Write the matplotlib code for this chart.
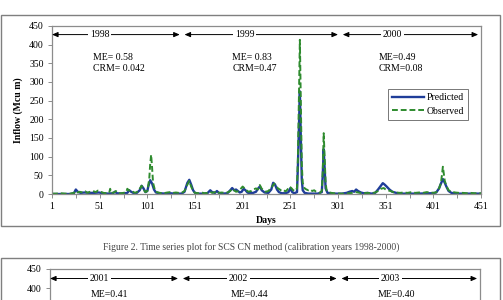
import matplotlib.pyplot as plt
from matplotlib.patches import Rectangle
import numpy as np

plt.rcParams['font.family'] = ['Liberation Serif', 'DejaVu Serif']

# ---------------------------------------------------------
# Data (day, inflow in Mcu m)
# ---------------------------------------------------------
obs_days = [1, 5, 10, 15, 20, 24, 26, 28, 30, 33, 36, 38, 41, 44, 47, 49, 52, 55, 58, 61,
            62, 63, 66, 68, 70, 73, 76, 79, 80, 82, 84, 86, 88, 90, 92, 95, 97, 99, 101, 103,
            104, 105, 106, 107, 109, 111, 114, 118, 122, 125, 128, 131, 134, 137, 140, 143, 145, 147, 149, 151,
            155, 158, 161, 164, 167, 169, 172, 174, 176, 179, 182, 185, 188, 190, 192, 194, 197, 199, 201, 203,
            205, 207, 210, 212, 215, 217, 219, 221, 223, 225, 228, 230, 232, 234, 236, 238, 240, 242, 244, 246,
            248, 250, 252, 254, 256, 258, 259, 260, 261, 262, 263, 264, 266, 268, 270, 272, 274, 276, 278, 280,
            282, 284, 285, 286, 287, 288, 289, 291, 294, 297, 300, 304, 308, 312, 316, 320, 324, 328, 332, 336,
            340, 343, 346, 349, 351, 353, 356, 359, 362, 366, 370, 374, 378, 382, 386, 390, 394, 398, 402, 405,
            407, 409, 410, 411, 412, 413, 415, 417, 420, 424, 428, 432, 436, 440, 444, 448, 451]
obs_vals = [1, 1, 2, 1, 1, 3, 8, 4, 6, 4, 7, 3, 6, 8, 5, 9, 6, 3, 2, 3,
            14, 3, 4, 8, 3, 2, 3, 5, 14, 9, 10, 6, 3, 5, 10, 22, 12, 5, 8, 40,
            80, 105, 70, 30, 10, 5, 3, 2, 4, 5, 3, 4, 3, 3, 8, 25, 35, 20, 8, 3,
            2, 4, 2, 3, 6, 3, 5, 8, 3, 4, 3, 4, 8, 14, 10, 6, 8, 14, 20, 15,
            10, 6, 8, 12, 15, 12, 24, 14, 10, 6, 8, 14, 20, 28, 22, 15, 12, 8, 10, 7,
            12, 20, 16, 10, 8, 15, 100, 260, 413, 250, 80, 30, 15, 12, 10, 12, 8, 10, 6, 4,
            3, 8, 60, 163, 100, 30, 10, 5, 3, 2, 2, 1, 1, 2, 3, 5, 3, 2, 3, 2,
            4, 8, 14, 16, 12, 10, 8, 5, 4, 3, 4, 3, 5, 3, 4, 3, 5, 4, 3, 6,
            15, 30, 50, 73, 55, 35, 20, 10, 6, 4, 3, 3, 2, 3, 2, 2, 2]

pred_days = [1, 20, 24, 26, 28, 31, 35, 40, 45, 50, 55, 60, 65, 67, 69, 75, 80, 82, 84, 87,
             90, 93, 95, 97, 99, 101, 102, 104, 106, 108, 110, 114, 120, 125, 130, 137, 140, 143, 145, 147,
             149, 151, 155, 160, 164, 167, 169, 172, 174, 176, 180, 185, 188, 190, 192, 194, 196, 198, 200, 202,
             204, 206, 208, 212, 215, 217, 219, 221, 224, 228, 231, 233, 235, 237, 239, 242, 246, 249, 251, 253,
             255, 258, 259, 260, 261, 262, 263, 264, 266, 270, 275, 280, 284, 285, 286, 287, 288, 290, 295, 305,
             310, 313, 316, 318, 320, 322, 325, 328, 332, 336, 340, 343, 346, 348, 350, 352, 355, 358, 362, 366,
             375, 385, 395, 400, 404, 407, 409, 411, 413, 415, 417, 420, 425, 435, 451]
pred_vals = [0, 0, 2, 12, 6, 3, 4, 3, 3, 4, 2, 1, 2, 6, 2, 1, 3, 10, 6, 2,
             3, 10, 22, 15, 5, 8, 20, 37, 28, 12, 4, 2, 1, 2, 1, 1, 6, 30, 38, 25,
             10, 3, 1, 1, 2, 10, 5, 3, 8, 3, 1, 2, 10, 16, 10, 12, 8, 4, 6, 14,
             10, 4, 2, 3, 6, 14, 20, 10, 4, 3, 12, 30, 25, 12, 5, 2, 2, 5, 15, 5,
             2, 5, 80, 180, 275, 150, 40, 10, 3, 1, 1, 1, 5, 50, 120, 70, 15, 3, 1, 1,
             3, 6, 8, 6, 12, 8, 4, 2, 3, 1, 3, 12, 22, 29, 25, 20, 12, 6, 3, 1,
             1, 1, 2, 2, 4, 15, 28, 40, 30, 18, 8, 3, 1, 1, 1]

year_labels = ['1998', '1999', '2000']
year_spans = [(1, 135), (140, 301), (306, 448)]
year_text_x = [51, 203, 358]
stats_text = ['ME= 0.58\nCRM= 0.042', 'ME= 0.83\nCRM=0.47', 'ME=0.49\nCRM=0.08']
stats_x = [44, 190, 344]

next_years = ['2001', '2002', '2003']
next_text_x = [53, 198, 357]
next_stats = ['ME=0.41', 'ME=0.44', 'ME=0.40']

W, H = 503, 300
fig = plt.figure(figsize=(W / 100, H / 100), dpi=100)
fig.patch.set_facecolor('white')


def px_axes(left, top, right, bottom):
    return fig.add_axes([left / W, 1 - bottom / H, (right - left) / W, (bottom - top) / H])


# outer frames
fig.patches.append(Rectangle((1 / W, 1 - 226 / H), 499 / W, 211 / H, transform=fig.transFigure,
                             fill=False, edgecolor='#7f7f7f', lw=1.0))
fig.patches.append(Rectangle((1 / W, -0.1), 499 / W, 0.1 + 1 - 258 / H, transform=fig.transFigure,
                             fill=False, edgecolor='#7f7f7f', lw=1.0))

grey = '#8c8c8c'


def style_axes(ax):
    for s in ax.spines.values():
        s.set_color(grey)
        s.set_linewidth(0.9)
    ax.set_xlim(1, 451)
    ax.set_ylim(0, 450)
    ax.set_yticks(np.arange(0, 451, 50))
    ax.set_xticks(np.arange(1, 452, 50))
    ax.set_xticks(np.arange(26, 452, 50), minor=True)
    ax.tick_params(axis='both', labelsize=7, length=3, width=0.7, color=grey, pad=3)
    ax.tick_params(axis='x', which='minor', length=3, width=0.7, color=grey)


# ---------------------------------------------------------
# Main chart
# ---------------------------------------------------------
ax = px_axes(52, 26, 481, 194)
style_axes(ax)
ax.plot(pred_days, pred_vals, color='#1f3d99', lw=1.7, label='Predicted')
ax.plot(obs_days, obs_vals, color='#2e8b2e', lw=1.4, ls=(0, (3, 1.5)), label='Observed')

for lab, (a, b), tx in zip(year_labels, year_spans, year_text_x):
    ax.annotate('', xy=(a, 427), xytext=(b, 427),
                arrowprops=dict(arrowstyle='<|-|>,head_length=0.35,head_width=0.15', color='black', lw=0.7,
                                shrinkA=0, shrinkB=0))
    ax.text(tx, 427, lab, ha='center', va='center', fontsize=7,
            bbox=dict(facecolor='white', edgecolor='none', pad=1.5))

for t, x in zip(stats_text, stats_x):
    ax.text(x, 352, t, ha='left', va='center', fontsize=7, linespacing=1.3)

leg = ax.legend(loc='upper left', bbox_to_anchor=(0.772, 0.655), fontsize=7, frameon=True,
                fancybox=False, edgecolor='#555555', handlelength=3.2, handletextpad=0.3,
                borderpad=0.45, labelspacing=0.45)
leg.get_frame().set_linewidth(0.7)

ax.set_xlabel('Days', fontsize=7, fontweight='bold', labelpad=2)
ax.xaxis.set_label_coords(0.5, -0.13)
ax.set_ylabel('Inflow (Mcu m)', fontsize=7, fontweight='bold', labelpad=4)

# caption
fig.text(251 / W, 1 - 247 / H, 'Figure 2. Time series plot for SCS CN method (calibration years 1998-2000)',
         ha='center', va='center', fontsize=6.9, color='#444444')

# ---------------------------------------------------------
# Top of next chart (continues below the picture)
# ---------------------------------------------------------
ax2 = px_axes(50, 269, 480, 440)
style_axes(ax2)
ax2.set_yticks([400, 450])
ax2.tick_params(axis='x', which='both', labelbottom=False)
for lab, (a, b), tx in zip(next_years, year_spans, next_text_x):
    ax2.annotate('', xy=(a, 425), xytext=(b, 425),
                 arrowprops=dict(arrowstyle='<|-|>,head_length=0.35,head_width=0.15', color='black', lw=0.7,
                                 shrinkA=0, shrinkB=0))
    ax2.text(tx, 425, lab, ha='center', va='center', fontsize=7,
             bbox=dict(facecolor='white', edgecolor='none', pad=1.5))
for t, x in zip(next_stats, stats_x):
    ax2.text(x, 383, t, ha='left', va='center', fontsize=7)

fig.savefig('out.png', dpi=100)
